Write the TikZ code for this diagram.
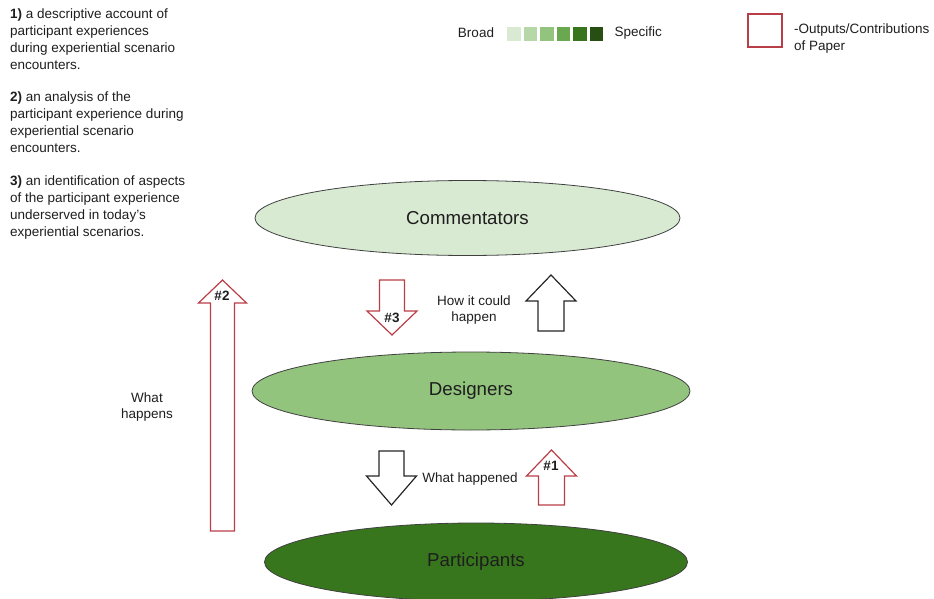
\documentclass[tikz,border=0pt]{standalone}
\usepackage{fontspec}
\setmainfont{Liberation Sans}
\usetikzlibrary{shapes.geometric}

\definecolor{outred}{RGB}{186,62,72}
\definecolor{gA}{HTML}{D9EAD3}
\definecolor{gB}{HTML}{B6D7A8}
\definecolor{gC}{HTML}{93C47D}
\definecolor{gD}{HTML}{6AA84F}
\definecolor{gE}{HTML}{38761D}
\definecolor{gF}{HTML}{274E13}
\definecolor{txt}{RGB}{30,30,30}

% colour, x, tail y, head base y, tip y, half shaft, half head
\newcommand{\blockarr}[7]{%
	\draw[#1, line width=1.2pt, fill=white] ({#2-#6},#3) -- ({#2-#6},#4) -- ({#2-#7},#4) -- (#2,#5)
		-- ({#2+#7},#4) -- ({#2+#6},#4) -- ({#2+#6},#3) -- cycle;}

\begin{document}
\begin{tikzpicture}[x=1pt, y=-1pt,
	every node/.style={text=txt, font=\fontsize{13.5}{16.9}\selectfont},
	group/.style={ellipse, draw=black!75, line width=0.8pt, font=\fontsize{18.7}{22}\selectfont},
	para/.style={anchor=north west, align=left, inner sep=0pt}]
	\useasboundingbox (0,0) rectangle (934,599);

	\node (p1) [para] at (10,8.5) {\textbf{1)} a descriptive account of\\participant experiences\\during experiential scenario\\encounters.};
	\node (p2) [para] at (10,92) {\textbf{2)} an analysis of the\\participant experience during\\experiential scenario\\encounters.};
	\node (p3) [para] at (10,175.5) {\textbf{3)} an identification of aspects\\of the participant experience\\underserved in today's\\experiential scenarios.};

	% legend
	\node (broad) at (476,33) {Broad};
	\foreach \c [count=\i from 0] in {gA,gB,gC,gD,gE,gF}
		\fill[\c] ({507+16.5*\i},27) rectangle ++(13.5,14);
	\node (spec) [anchor=west] at (611,33) {Specific};
	\draw[outred, line width=1.2pt] (748,14) rectangle (782,47);
	\node (outs) [anchor=west, align=left, inner sep=0pt] at (794,38.5) {-Outputs/Contributions\\of Paper};

	% groups
	\node (comm) [group, fill=gA, minimum width=425pt, minimum height=75pt] at (467.5,218) {Commentators};
	\node (des) [group, fill=gC, minimum width=438pt, minimum height=78pt] at (471,391) {Designers};
	\node (part) [group, fill=gE, minimum width=423pt, minimum height=78pt] at (476,562) {Participants};

	% arrows
	\blockarr{outred}{222.5}{531}{303}{280}{12}{24}
	\blockarr{outred}{392}{280}{311}{335}{12.5}{25}
	\blockarr{black!85}{551}{331}{301}{275}{13}{25}
	\blockarr{black!85}{391.5}{451}{476}{505}{12.5}{25}
	\blockarr{outred}{551.5}{505}{476}{450}{13}{25}

	\node (n2) at (222,296) {\textbf{\#2}};
	\node (n3) at (392,318) {\textbf{\#3}};
	\node (n1) at (551,466) {\textbf{\#1}};
	\node (could) [align=center] at (474,310) {How it could\\happen};
	\node (happens) [align=center] at (147,407) {What\\happens};
	\node (happened) at (470,479) {What happened};
\end{tikzpicture}
\end{document}
